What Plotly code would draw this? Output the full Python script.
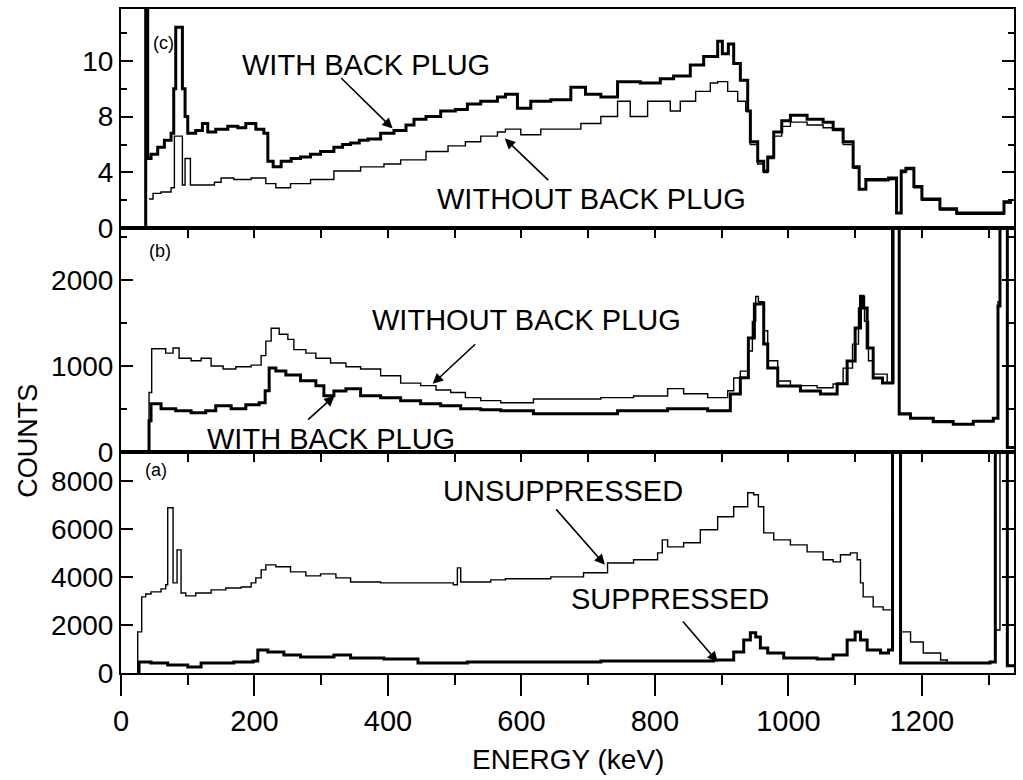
import plotly.graph_objects as go

# ---------------- data (energy keV, counts) ----------------
# Panel (c)
c_with_E = [36, 37, 40, 45, 55, 65, 75, 79, 82, 92, 96, 100, 112, 122, 130, 142, 160, 175, 187, 202, 214, 220, 228, 240, 255, 269, 284, 299, 319, 332, 344, 357, 370, 389, 409, 427, 439, 457, 479, 501, 519, 539, 564, 576, 594, 614, 644, 674, 696, 719, 744, 778, 808, 828, 853, 873, 894, 901, 910, 918, 928, 939, 943, 954, 963, 969, 978, 990, 1003, 1028, 1052, 1067, 1082, 1097, 1106, 1116, 1150, 1162, 1169, 1176, 1188, 1200, 1227, 1252, 1290, 1323, 1335]
c_with_V = [0, 15.6, 5.0, 5.3, 5.8, 6.3, 6.8, 10.0, 14.4, 10.0, 8.0, 6.8, 7.0, 7.5, 6.9, 7.1, 7.3, 7.2, 7.5, 7.1, 6.8, 4.8, 4.4, 4.8, 5.0, 5.1, 5.3, 5.5, 5.8, 6.0, 6.1, 6.3, 6.4, 6.8, 7.0, 7.4, 7.8, 8.0, 8.4, 8.5, 8.9, 9.1, 9.4, 9.6, 8.6, 9.1, 9.2, 10.1, 9.6, 9.4, 10.5, 10.4, 10.7, 10.9, 11.7, 12.3, 13.4, 12.5, 13.2, 11.8, 10.6, 8.4, 6.2, 4.8, 4.1, 5.1, 6.9, 7.7, 8.1, 7.8, 7.6, 7.1, 6.2, 4.4, 2.8, 3.5, 3.6, 1.1, 4.1, 4.3, 3.0, 2.1, 1.4, 1.1, 1.1, 1.9, 1.9]
c_without_E = [42, 48, 60, 75, 80, 92, 96, 104, 140, 150, 169, 195, 217, 232, 254, 284, 319, 359, 394, 419, 457, 490, 516, 539, 564, 576, 599, 629, 659, 689, 719, 744, 763, 789, 823, 838, 861, 883, 894, 909, 924, 936, 943, 954, 963, 969, 978, 990, 1003, 1028, 1052, 1067, 1082, 1097, 1106, 1116, 1150, 1162, 1169, 1176, 1188, 1200, 1227, 1252, 1290, 1323, 1335]
c_without_V = [2.1, 2.5, 2.6, 2.9, 6.6, 3.1, 5.0, 3.1, 3.3, 3.6, 3.5, 3.6, 3.2, 2.9, 3.2, 3.5, 4.1, 4.4, 4.6, 4.9, 5.5, 5.9, 6.2, 6.6, 6.9, 7.1, 6.7, 7.1, 7.1, 7.5, 8.0, 9.1, 8.0, 9.1, 8.4, 9.1, 9.8, 10.4, 10.5, 9.8, 9.1, 8.4, 6.0, 4.6, 4.0, 5.0, 6.6, 7.3, 7.6, 7.4, 7.2, 7.0, 6.0, 4.3, 2.8, 3.4, 3.5, 1.1, 4.0, 4.2, 2.9, 2.0, 1.3, 1.0, 1.0, 1.8, 1.8]

# Panel (b)
b_without_E = [39, 42, 46, 57, 67, 78, 87, 105, 120, 135, 153, 172, 195, 210, 217, 225, 237, 250, 259, 277, 292, 314, 337, 359, 389, 419, 449, 472, 494, 516, 539, 569, 618, 669, 719, 768, 819, 843, 879, 909, 918, 928, 939, 946, 951, 955, 963, 969, 984, 1003, 1043, 1067, 1082, 1096, 1105, 1109, 1114, 1120, 1127, 1148, 1158, 1166, 1183, 1217, 1247, 1277, 1307, 1314, 1317, 1328, 1338]
b_without_V = [0, 690, 1200, 1200, 1150, 1210, 1090, 1060, 1090, 1000, 965, 990, 1010, 1120, 1290, 1440, 1370, 1310, 1190, 1150, 1090, 1035, 990, 965, 885, 800, 770, 720, 690, 630, 595, 570, 615, 615, 630, 650, 735, 675, 630, 710, 860, 940, 1175, 1520, 1810, 1750, 1410, 1060, 825, 770, 745, 790, 975, 1255, 1675, 1810, 1520, 1060, 905, 800, 3200, 450, 395, 360, 325, 360, 395, 1750, 3200, 50, 50]
b_with_E = [39, 42, 45, 60, 82, 105, 127, 142, 165, 187, 207, 216, 222, 232, 247, 269, 292, 304, 319, 337, 359, 389, 419, 449, 479, 509, 539, 569, 618, 669, 744, 819, 879, 913, 928, 940, 949, 958, 963, 969, 984, 1018, 1048, 1073, 1088, 1100, 1108, 1112, 1118, 1127, 1141, 1156, 1166, 1183, 1217, 1247, 1277, 1307, 1314, 1317, 1328, 1338]
b_with_V = [0, 360, 560, 500, 477, 453, 477, 535, 500, 547, 570, 710, 977, 942, 895, 826, 768, 651, 709, 733, 651, 628, 593, 558, 535, 500, 488, 477, 442, 442, 477, 500, 477, 674, 861, 1326, 1721, 1733, 1256, 977, 767, 709, 674, 791, 1058, 1442, 1814, 1675, 1209, 860, 802, 3200, 440, 390, 350, 320, 355, 390, 1700, 3200, 50, 50]

# Panel (a)
a_unsup_E = [24, 25, 31, 37, 45, 60, 67, 70, 78, 84, 90, 97, 112, 135, 157, 180, 195, 202, 210, 217, 232, 254, 277, 299, 322, 344, 389, 449, 498, 504, 509, 554, 576, 644, 693, 729, 768, 804, 811, 819, 843, 868, 894, 918, 939, 948, 955, 963, 978, 1003, 1028, 1052, 1067, 1078, 1093, 1103, 1108, 1112, 1127, 1142, 1157, 1168, 1183, 1202, 1228, 1238, 1268, 1302, 1310, 1317, 1328, 1338]
a_unsup_V = [0, 1710, 3170, 3290, 3375, 3500, 3670, 6875, 3750, 5125, 3330, 3210, 3330, 3460, 3540, 3580, 3750, 3960, 4290, 4500, 4420, 4210, 4040, 4125, 3960, 3790, 3750, 3750, 3670, 4375, 3790, 3875, 3920, 4000, 4170, 4580, 4710, 5000, 5540, 5250, 5420, 5960, 6500, 6920, 7500, 7420, 6920, 5830, 5540, 5330, 5040, 4710, 4625, 4920, 5000, 4710, 3750, 3170, 2750, 2625, 9800, 1710, 1290, 830, 540, 420, 420, 460, 1790, 9800, 300, 300]
a_sup_E = [24, 27, 34, 45, 70, 100, 120, 169, 198, 205, 220, 244, 269, 319, 344, 394, 445, 519, 594, 719, 888, 918, 933, 943, 951, 958, 969, 993, 1018, 1043, 1067, 1088, 1100, 1108, 1118, 1138, 1150, 1156, 1168, 1217, 1302, 1310, 1328, 1338]
a_sup_V = [0, 460, 460, 420, 330, 250, 420, 460, 500, 960, 875, 750, 670, 750, 625, 580, 420, 460, 460, 500, 540, 875, 1375, 1670, 1500, 1040, 830, 625, 625, 580, 750, 1375, 1710, 1375, 960, 830, 960, 9800, 420, 420, 460, 9800, 300, 300]

x_major_ticks = [0, 200, 400, 600, 800, 1000, 1200]
ya_ticks = [0, 2000, 4000, 6000, 8000]
yb_ticks = [0, 1000, 2000]
yc_ticks = [0, 4, 8, 12]
yc_ticktext = ["0", "4", "8", "10"]

FONT = "Liberation Sans, Arial, Helvetica, sans-serif"

fig = go.Figure()


def step(x, y, xa, ya, w):
    fig.add_trace(go.Scatter(x=x, y=y, mode="lines",
                             line=dict(color="black", width=w, shape="hv"),
                             xaxis=xa, yaxis=ya, showlegend=False, hoverinfo="skip"))


step(a_unsup_E, a_unsup_V, "x", "y", 1.4)
step(a_sup_E, a_sup_V, "x", "y", 3.0)
step(b_without_E, b_without_V, "x2", "y2", 1.4)
step(b_with_E, b_with_V, "x2", "y2", 3.0)
step(c_without_E, c_without_V, "x3", "y3", 1.4)
step(c_with_E, c_with_V, "x3", "y3", 3.0)
# empty trace to activate the overlay axis carrying the top ticks of panel (a)
fig.add_trace(go.Scatter(x=[], y=[], xaxis="x4", yaxis="y", showlegend=False))

XR = [0, 1338]
common_x = dict(range=XR, showgrid=False, zeroline=False, showline=True,
                linecolor="black", linewidth=2, tickcolor="black", tickwidth=1.5)
common_y = dict(showgrid=False, zeroline=False, showline=True, linecolor="black",
                linewidth=2, tickcolor="black", tickwidth=1.5, ticks="inside",
                mirror="ticks", ticklen=12, tickfont=dict(size=28, color="black"))

dA = [0, 0.3333]
dB = [0.3333, 0.6697]
dC = [0.6697, 1.0]

fig.update_layout(
    width=1023, height=780,
    margin=dict(l=121, r=8, t=7, b=107),
    paper_bgcolor="white", plot_bgcolor="white",
    font=dict(family=FONT, color="black"),
    xaxis=dict(**common_x, anchor="y", mirror=True, ticks="outside",
               tickvals=x_major_ticks, ticklen=21,
               minor=dict(dtick=100, tick0=0, ticks="outside", ticklen=10,
                          tickcolor="black", tickwidth=1.5),
               tickfont=dict(size=29, color="black")),
    xaxis2=dict(**common_x, anchor="y2", mirror=True, side="top", ticks="inside",
                dtick=100, tick0=0, ticklen=10, showticklabels=False),
    xaxis3=dict(**common_x, anchor="y3", mirror=True, ticks="", showticklabels=False),
    xaxis4=dict(range=XR, overlaying="x", anchor="y", side="top", ticks="inside",
                dtick=100, tick0=0, ticklen=10, tickcolor="black", tickwidth=1.5,
                showticklabels=False, showline=False, showgrid=False, zeroline=False),
    yaxis=dict(**common_y, domain=dA, range=[0, 9210], tickvals=ya_ticks),
    yaxis2=dict(**common_y, domain=dB, range=[0, 2605], tickvals=yb_ticks,
                minor=dict(tickvals=[500, 1500, 2500], ticks="inside", ticklen=6,
                           tickcolor="black", tickwidth=1.5)),
    yaxis3=dict(**common_y, domain=dC, range=[0, 15.7], tickvals=yc_ticks,
                ticktext=yc_ticktext,
                minor=dict(tickvals=[2, 6, 10, 14], ticks="inside", ticklen=6,
                           tickcolor="black", tickwidth=1.5)),
)

ann = []


def label(text, x, y, xr, yr, size=29):
    ann.append(dict(text=text, x=x, y=y, xref=xr, yref=yr, showarrow=False,
                    xanchor="center", yanchor="middle",
                    font=dict(size=size, color="black", family=FONT)))


def arrow(x, y, xr, yr, ax, ay):
    ann.append(dict(text="", x=x, y=y, xref=xr, yref=yr, showarrow=True,
                    ax=ax, ay=ay, arrowhead=2, arrowsize=1.3, arrowwidth=1.6,
                    arrowcolor="black"))


# panel (c)
label("WITH BACK PLUG", 367, 11.7, "x3", "y3")
arrow(407, 7.14, "x3", "y3", -53, -52)
label("WITHOUT BACK PLUG", 705, 2.07, "x3", "y3")
arrow(575, 6.43, "x3", "y3", 45, 43)
label("(c)", 64, 13.3, "x3", "y3", 18)
# panel (b)
label("WITHOUT BACK PLUG", 608, 1535, "x2", "y2")
arrow(467, 791, "x2", "y2", 44, -41)
label("WITH BACK PLUG", 314, 151, "x2", "y2")
arrow(320, 651, "x2", "y2", -28, 25)
label("(b)", 58, 2337, "x2", "y2", 18)
# panel (a)
label("UNSUPPRESSED", 662, 7584, "x", "y")
arrow(725, 4500, "x", "y", -50, -57)
label("SUPPRESSED", 822, 3083, "x", "y")
arrow(894, 458, "x", "y", -36, -42)
label("(a)", 52, 8459, "x", "y", 18)

# axis titles
ann.append(dict(text="COUNTS", x=-0.105, y=0.35, xref="paper", yref="paper",
                showarrow=False, textangle=-90, xanchor="center", yanchor="middle",
                font=dict(size=27, color="black", family=FONT)))
ann.append(dict(text="ENERGY (keV)", x=0.5, y=-0.131, xref="paper", yref="paper",
                showarrow=False, xanchor="center", yanchor="middle",
                font=dict(size=28, color="black", family=FONT)))

fig.update_layout(annotations=ann)
fig.write_html("out.html")
